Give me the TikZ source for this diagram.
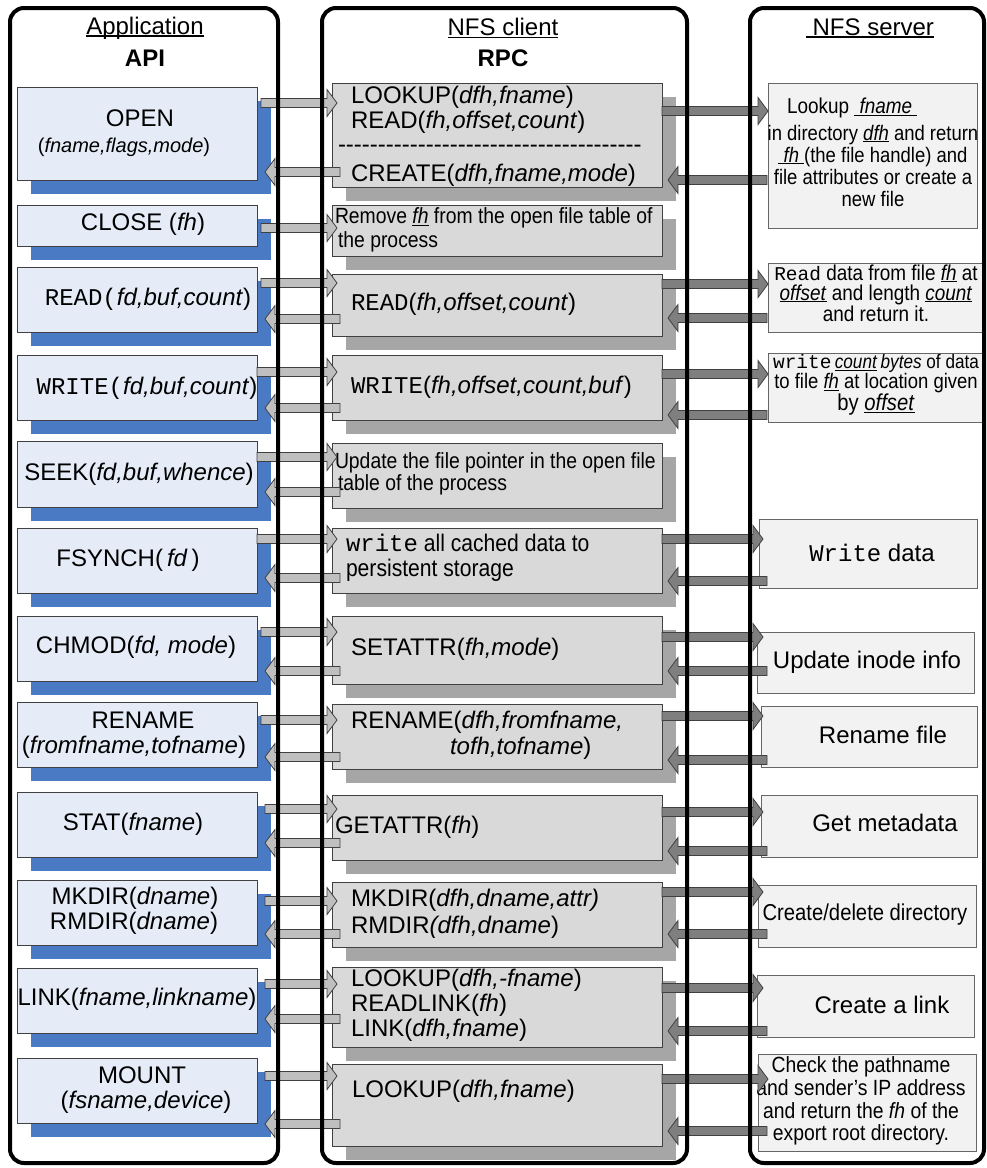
\documentclass[tikz,border=0pt]{standalone}
\usepackage{fontspec}
\setmainfont{Liberation Sans}
\setmonofont{Liberation Mono}
\newfontfamily\nar[FakeStretch=0.88]{Liberation Sans}
\definecolor{apifill}{HTML}{E6ECF7}
\definecolor{apishadow}{HTML}{4A7AC4}
\definecolor{rpcfill}{HTML}{D9D9D9}
\definecolor{rpcshadow}{HTML}{A6A6A6}
\definecolor{srvfill}{HTML}{F2F2F2}
\definecolor{arrlight}{HTML}{BFBFBF}
\definecolor{arrdark}{HTML}{7F7F7F}
\definecolor{edgegray}{HTML}{404040}
\newcommand\myul[1]{\setbox0\hbox{#1}\rlap{\rule[-0.1em]{\wd0}{0.055em}}\box0\relax}
\newcommand\hyrep[1]{\ifnum#1>0 -{}\expandafter\hyrep\expandafter{\the\numexpr#1-1\relax}\fi}
\newcommand\boxat[6]{\node[#1, minimum width=\dimexpr#5pt-#3pt\relax, minimum height=\dimexpr#6pt-#4pt\relax] (#2) at (#3,#4) {};}
\newcommand\boxshadow[5]{\fill[#1] ({#2+14},{#3+14}) rectangle ({#4+14},{#5+14});}
\newcommand\rarr[4]{\draw[#1] (#2,{#4-4.5}) -- ({#3-10},{#4-4.5}) -- ({#3-10},{#4-13.5}) -- (#3,#4) -- ({#3-10},{#4+13.5}) -- ({#3-10},{#4+4.5}) -- (#2,{#4+4.5}) -- cycle;}
\newcommand\larr[4]{\draw[#1] (#3,{#4-4.5}) -- ({#2+10},{#4-4.5}) -- ({#2+10},{#4-13.5}) -- (#2,#4) -- ({#2+10},{#4+13.5}) -- ({#2+10},{#4+4.5}) -- (#3,{#4+4.5}) -- cycle;}
\begin{document}
\begin{tikzpicture}[x=1pt,y=-1pt,
  every node/.style={inner sep=0pt, outer sep=0pt},
  apibox/.style={draw=edgegray, fill=apifill, line width=1pt, anchor=north west},
  rpcbox/.style={draw=edgegray, fill=rpcfill, line width=1pt, anchor=north west},
  srvbox/.style={draw=edgegray!80, fill=srvfill, line width=1pt, anchor=north west},
  lightarrow/.style={fill=arrlight, draw=edgegray, line width=0.8pt},
  darkarrow/.style={fill=arrdark, draw=edgegray, line width=0.8pt},
  frame/.style={draw=black, line width=4pt, rounded corners=14pt},
  t24/.style={font=\fontsize{24}{27}\selectfont},
  t20/.style={font=\fontsize{20}{24}\selectfont},
  l24/.style={anchor=west, font=\fontsize{24}{27}\selectfont},
  n22/.style={anchor=west, font=\nar\fontsize{22}{24}\selectfont},
  n24/.style={anchor=west, font=\nar\fontsize{24}{27}\selectfont},
  title/.style={font=\fontsize{24}{27}\selectfont}]
\fill[white, use as bounding box] (0,0) rectangle (987,1168);

% titles
\node[title] (appT) at (145,28) {\myul{Application}};
\node[title] (apiT) at (145,58) {\textbf{API}};
\node[title] (cliT) at (503,28) {\myul{NFS client}};
\node[title] (rpcT) at (503,58) {\textbf{RPC}};
\node[title] (srvT) at (870,28) {\myul{\ NFS server}};

% API boxes
\foreach \n/\ya/\yb in {1/87/180,2/205/246,3/267/332,4/355/420,5/441/507,6/528/593,7/616/681,8/702/767,9/792/857,10/880/945,11/968/1033,12/1058/1123}{
  \boxshadow{apishadow}{17}{\ya}{257}{\yb}
  \boxat{apibox}{api\n}{17}{\ya}{257}{\yb}
}
% RPC boxes
\foreach \n/\ya/\yb in {1/83/187,2/205/256,3/274/336,4/355/420,5/443/508,6/528/593,7/616/684,8/704/769,9/795/860,10/882/947,11/967/1047,12/1064/1146}{
  \boxshadow{rpcshadow}{332}{\ya}{662}{\yb}
  \boxat{rpcbox}{rpc\n}{332}{\ya}{662}{\yb}
}
% server boxes
\foreach \n/\xa/\ya/\xb/\yb in {1/768/83/977/228,3/768/263/985/332,4/768/353/985/422,6/759/519/977/588,7/757/632/974/693,8/761/706/977/767,9/761/795/977/857,10/758/885/976/947,11/757/975/974/1037,12/758/1054/976/1151}{
  \boxat{srvbox}{srv\n}{\xa}{\ya}{\xb}{\yb}
}

% API texts
\node[t24] (tOpen) at (140,118) {OPEN};
\node[t20] (tOpenArgs) at (124,147) {(\textit{fname,flags,mode})};
\node[t24] (tClose) at (143,224) {CLOSE (\textit{fh})};
\node[t24] (tRead) at (148,299) {\texttt{READ(}\textit{fd,buf,count})};
\node[t24] (tWrite) at (147,388) {\texttt{WRITE(}\textit{fd,buf,count})};
\node[t24] (tSeek) at (139,474) {SEEK(\textit{fd,buf,whence})};
\node[t24] (tFsynch) at (128,560) {FSYNCH(\,\textit{fd}\,)};
\node[t24] (tChmod) at (136,647) {CHMOD(\textit{fd, mode})};
\node[t24] (tRename) at (143,720) {RENAME};
\node[t24] (tRenameArgs) at (134,747) {(\textit{fromfname,tofname})};
\node[t24] (tStat) at (133,824) {STAT(\textit{fname})};
\node[t24] (tMkdir) at (135,898) {MKDIR(\textit{dname})};
\node[t24] (tRmdir) at (134,923) {RMDIR(\textit{dname})};
\node[t24] (tLink) at (137,999) {LINK(\textit{fname,linkname})};
\node[t24] (tMount) at (142,1075) {MOUNT};
\node[t24] (tMountArgs) at (146,1102) {(\textit{fsname,device})};

% RPC texts
\node[l24] (r1a) at (351,97) {LOOKUP(\textit{dfh,fname})};
\node[l24] (r1b) at (351,122) {READ(\textit{fh,offset,count})};
\node[l24] (r1c) at (338,149) {\hyrep{38}};
\node[l24] (r1d) at (351,175) {CREATE(\textit{dfh,fname,mode})};
\node[n22] (r2a) at (335,218) {Remove \myul{\textit{fh}} from the open file table of};
\node[n22] (r2b) at (338,242) {the process};
\node[l24] (r3) at (351,304) {\texttt{READ}(\textit{fh,offset,count})};
\node[l24] (r4) at (351,387) {\texttt{WRITE}(\textit{fh,offset,count,buf})};
\node[n22] (r5a) at (335,463) {Update the file pointer in the open file};
\node[n22] (r5b) at (338,485) {table of the process};
\node[n24] (r6a) at (346,543) {\texttt{write} all cached data to};
\node[n24] (r6b) at (346,570) {persistent storage};
\node[l24] (r7) at (351,649) {SETATTR(\textit{fh,mode})};
\node[l24] (r8a) at (351,722) {RENAME(\textit{dfh,fromfname,}};
\node[l24] (r8b) at (450,748) {\textit{tofh,tofname})};
\node[l24] (r9) at (335,827) {GETATTR(\textit{fh})};
\node[l24] (r10a) at (351,900) {MKDIR(\textit{dfh,dname,attr)}};
\node[l24] (r10b) at (351,927) {RMDIR\textit{(dfh,dname})};
\node[l24] (r11a) at (351,980) {LOOKUP(\textit{dfh,-fname})};
\node[l24] (r11b) at (351,1005) {READLINK(\textit{fh})};
\node[l24] (r11c) at (351,1030) {LINK(\textit{dfh,fname})};
\node[l24] (r12) at (352,1091) {LOOKUP(\textit{dfh,fname})};

% server texts
\node[anchor=west, font=\nar\fontsize{21.5}{22.3}\selectfont] (s1a) at (787,108) {Lookup \myul{\ \textit{fname}\ }};
\node[align=center, font=\nar\fontsize{21}{22.3}\selectfont] (s1b) at (873,166) {in directory \myul{\textit{dfh}} and return\\\myul{\ \textit{fh}\ }(the file handle) and\\file attributes or create a\\new file};
\node[align=center, font=\nar\fontsize{21.5}{19.7}\selectfont] (s3) at (876,293) {{\fontsize{19.5}{19.5}\selectfont\ttfamily Read} data from file \myul{\textit{fh}} at\\\myul{\textit{offset}} and length \myul{\textit{count}}\\and return it.};
\node[align=center, font=\nar\fontsize{21}{20}\selectfont] (s4) at (876,385) {{\fontsize{19.5}{20}\selectfont\texttt{write}\,\myul{\textit{count}}\,\textit{bytes} of data}\\to file \myul{\textit{fh}} at location given\\{\fontsize{23}{20}\selectfont by \myul{\textit{offset}}}};
\node[t24] (s6) at (872,553) {\texttt{Write} data};
\node[t24] (s7) at (867,662) {Update inode info};
\node[t24] (s8) at (883,735) {Rename file};
\node[t24] (s9) at (885,823) {Get metadata};
\node[font=\nar\fontsize{23}{26}\selectfont] (s10) at (865,915) {Create/delete directory};
\node[t24] (s11) at (882,1005) {Create a link};
\node[align=center, font=\nar\fontsize{22}{22.7}\selectfont] (s12) at (861,1101) {Check the pathname\\and sender’s IP address\\and return the \textit{fh} of the\\export root directory.};

% arrows API <-> RPC
\foreach \xs/\y in {261/103,261/228,261/283,257/372,257/457,257/539,261/632,261/720,265/809,265/901,265/984,265/1076}{
  \rarr{lightarrow}{\xs}{337}{\y}
}
\foreach \y in {172,319,408,492,578,671,757,843,934,1019,1124}{
  \larr{lightarrow}{265}{340}{\y}
}
% arrows RPC <-> server
\foreach \xt/\y in {768/111,768/284,768/374,763/539,763/637,763/716,763/812,763/892,763/988,768/1079}{
  \rarr{darkarrow}{662}{\xt}{\y}
}
\foreach \y in {180,318,415,581,671,760,851,934,1031,1131}{
  \larr{darkarrow}{668}{767}{\y}
}

% column frames
\draw[frame] (10,8) rectangle (278,1163);
\draw[frame] (322,8) rectangle (687,1163);
\draw[frame] (750,8) rectangle (984,1163);
\end{tikzpicture}
\end{document}
